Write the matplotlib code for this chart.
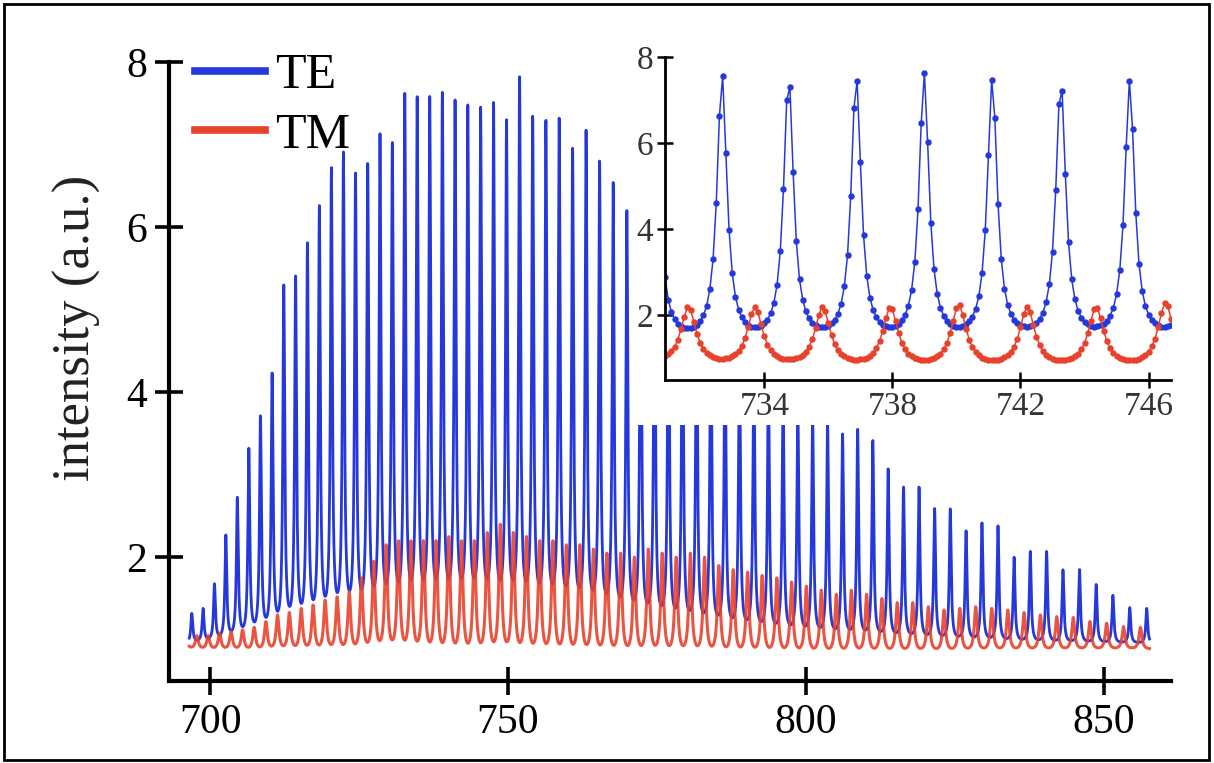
import numpy as np
import matplotlib.pyplot as plt
from matplotlib.patches import Rectangle

plt.rcParams['font.family'] = ['Liberation Serif', 'DejaVu Serif']

# TE cavity modes (nm), one per longitudinal order, and their peak intensity
te_modes = [696.93, 698.82, 700.73, 702.64, 704.57, 706.50, 708.45, 710.41, 712.37, 714.35,
            716.34, 718.34, 720.36, 722.38, 724.41, 726.46, 728.52, 730.59, 732.68, 734.76,
            736.87, 738.99, 741.12, 743.26, 745.41, 747.58, 749.76, 751.95, 754.15, 756.37,
            758.60, 760.85, 763.11, 765.38, 767.66, 769.96, 772.27, 774.60, 776.94, 779.29,
            781.66, 784.05, 786.44, 788.86, 791.28, 793.72, 796.18, 798.66, 801.14, 803.65,
            806.17, 808.70, 811.25, 813.82, 816.40, 819.00, 821.62, 824.25, 826.90, 829.57,
            832.26, 834.96, 837.68, 840.42, 843.17, 845.94, 848.74, 851.55, 854.38, 857.22]
te_peak = [1.32, 1.38, 1.68, 2.27, 2.73, 3.32, 3.72, 4.24, 5.31, 5.42,
           5.81, 6.26, 6.72, 6.91, 6.67, 6.77, 7.13, 7.04, 7.62, 7.58,
           7.60, 7.65, 7.54, 7.48, 7.47, 7.51, 7.30, 7.84, 7.36, 7.31,
           7.32, 6.97, 7.19, 6.80, 6.54, 6.20, 6.00, 5.80, 5.60, 5.40,
           5.20, 5.00, 4.80, 4.60, 4.40, 4.20, 4.00, 3.85, 3.75, 3.65,
           3.50, 3.55, 3.42, 3.07, 2.85, 2.85, 2.59, 2.59, 2.32, 2.42,
           2.38, 2.00, 2.07, 2.07, 1.85, 1.85, 1.67, 1.54, 1.39, 1.38]

# TM modes sit between the TE modes
tm_shift = -1.05
tm_peak = [1.05, 1.05, 1.05, 1.08, 1.10, 1.12, 1.15, 1.22, 1.30, 1.33,
           1.38, 1.42, 1.48, 1.52, 1.58, 1.75, 1.95, 2.15, 2.20, 2.20,
           2.20, 2.20, 2.25, 2.20, 2.20, 2.30, 2.40, 2.30, 2.25, 2.20,
           2.20, 2.15, 2.15, 2.10, 2.05, 2.05, 2.00, 2.10, 2.05, 2.00,
           2.05, 2.00, 1.90, 1.85, 1.82, 1.78, 1.75, 1.70, 1.65, 1.60,
           1.55, 1.60, 1.55, 1.50, 1.45, 1.45, 1.40, 1.36, 1.38, 1.40,
           1.38, 1.36, 1.33, 1.30, 1.28, 1.27, 1.22, 1.20, 1.16, 1.15]

# background level under the peaks
te_floor_wl = [696, 705, 712, 720, 730, 745, 760, 775, 790, 805, 820, 840, 858]
te_floor = [0.95, 0.98, 1.05, 1.12, 1.25, 1.32, 1.28, 1.15, 1.05, 1.00, 0.98, 0.95, 0.95]
tm_floor_wl = [696, 720, 740, 780, 820, 858]
tm_floor = [0.88, 0.82, 0.72, 0.76, 0.83, 0.88]

te_fwhm = 0.37
tm_fwhm = 0.58

blue = '#2438dc'
red = '#e8412c'


def lorentz(x, x0, fwhm):
    g = fwhm / 2.0
    return 1.0 / (1.0 + ((x - x0) / g) ** 2)


def spectrum(wl, modes, tops, fwhm, floor_wl, floor):
    modes = np.asarray(modes)
    tops = np.asarray(tops)
    # amplitudes chosen so each mode reaches its listed height
    m = lorentz(modes[:, None], modes[None, :], fwhm)
    amp = np.linalg.solve(m, tops - np.interp(modes, floor_wl, floor))
    return np.interp(wl, floor_wl, floor) + lorentz(wl[:, None], modes[None, :], fwhm) @ amp


tm_modes = np.array(te_modes) + tm_shift

wl = np.arange(696.5, 857.7, 0.02)
te = spectrum(wl, te_modes, te_peak, te_fwhm, te_floor_wl, te_floor)
tm = spectrum(wl, tm_modes, tm_peak, tm_fwhm, tm_floor_wl, tm_floor)

wl_in = np.arange(730.9, 746.75, 0.1)
te_in = spectrum(wl_in, te_modes, te_peak, te_fwhm, te_floor_wl, te_floor)
tm_in = spectrum(wl_in, tm_modes, tm_peak, tm_fwhm, tm_floor_wl, tm_floor)

W, H = 1214, 763
fig = plt.figure(figsize=(W / 100, H / 100), dpi=100)

ax = fig.add_axes([169 / W, 1 - 681 / H, 1002 / W, 619 / H])
ax.plot(wl, te, color=blue, lw=2.0, label='TE', solid_joinstyle='round')
ax.plot(wl, tm, color=red, lw=2.2, alpha=0.9, label='TM')
ax.set_xlim(693.1, 861.3)
ax.set_ylim(0.5, 8)
ax.set_xticks([700, 750, 800, 850])
ax.set_yticks([2, 4, 6, 8])
for s in ['top', 'right']:
    ax.spines[s].set_visible(False)
for s in ['left', 'bottom']:
    ax.spines[s].set_linewidth(3)
ax.tick_params(direction='inout', length=20, width=2.6, labelsize=30, pad=6)
ax.set_ylabel('intensity (a.u.)', fontsize=38, color='#222222')
ax.yaxis.set_label_coords(-0.068, 0.57)

leg = ax.legend(loc='upper left', bbox_to_anchor=(170 / W, 1 - 28 / H),
                bbox_transform=fig.transFigure, frameon=False, fontsize=36,
                handlelength=1.4, handletextpad=0.2, labelspacing=0.25, borderpad=0)
for line in leg.get_lines():
    line.set_linewidth(5.5)
    line.set_alpha(1)

# white panel behind the zoomed view
fig.patches.append(Rectangle((634 / W, 1 - 425 / H), 560 / W, 385 / H,
                             transform=fig.transFigure, facecolor='white',
                             edgecolor='none', zorder=1))

ins = fig.add_axes([665 / W, 1 - 380 / H, 506 / W, 323 / H], zorder=2)
ins.plot(wl_in, te_in, color=blue, lw=1.1, marker='o', ms=3.6)
ins.plot(wl_in, tm_in, color=red, lw=1.1, marker='o', ms=3.6)
ins.set_xlim(730.9, 746.7)
ins.set_ylim(0.5, 8)
ins.set_xticks([734, 738, 742, 746])
ins.set_yticks([2, 4, 6, 8])
for s in ['top', 'right']:
    ins.spines[s].set_visible(False)
for s in ['left', 'bottom']:
    ins.spines[s].set_linewidth(2)
ins.tick_params(direction='inout', length=11, width=1.8, labelsize=24, pad=3,
                labelcolor='#333333')

# outer frame
fig.patches.append(Rectangle((4 / W, 3 / H), 1205 / W, 756 / H,
                             transform=fig.transFigure, facecolor='none',
                             edgecolor='black', lw=2, zorder=5))

fig.savefig('out.png', dpi=100)
